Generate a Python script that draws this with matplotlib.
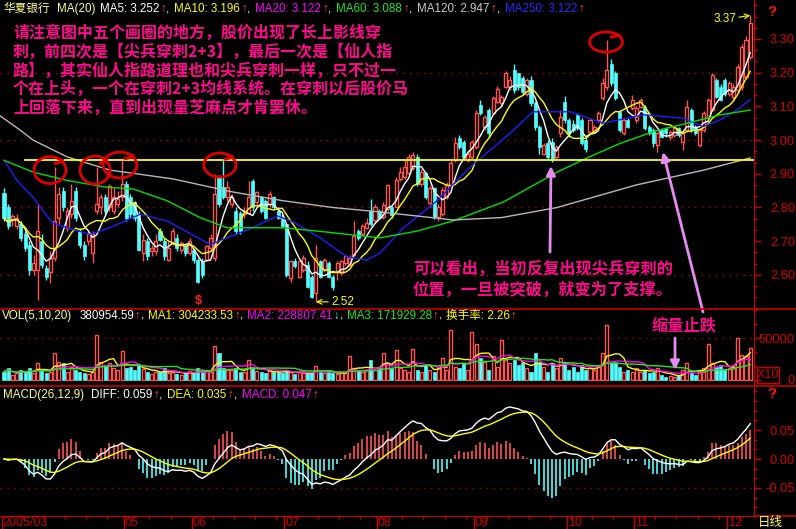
import numpy as np
import pandas as pd
import matplotlib
matplotlib.use('Agg')
import matplotlib.pyplot as plt
import matplotlib.transforms as mtrans
from matplotlib.patches import Ellipse, Rectangle, FancyArrowPatch, Arc
from matplotlib.ticker import MultipleLocator, FixedLocator

plt.rcParams['font.family'] = ['Liberation Sans', 'Noto Sans CJK SC', 'DejaVu Sans']

# 华夏银行 日线 2005/03 - 2005/12
opens = [2.842, 2.80, 2.765, 2.745, 2.75, 2.72, 2.69, 2.615, 2.615, 2.70,
         2.62, 2.61, 2.65, 2.77, 2.85, 2.74, 2.78, 2.85, 2.73, 2.69,
         2.70, 2.665, 2.79, 2.80, 2.83, 2.80, 2.79, 2.81, 2.83, 2.87,
         2.83, 2.815, 2.78, 2.665, 2.70, 2.67, 2.67, 2.73, 2.70, 2.645,
         2.695, 2.71, 2.675, 2.685, 2.665, 2.675, 2.645, 2.64, 2.645, 2.68,
         2.65, 2.89, 2.86, 2.83, 2.81, 2.79, 2.785, 2.78, 2.785, 2.88,
         2.815, 2.83, 2.82, 2.81, 2.83, 2.79, 2.77, 2.75, 2.59, 2.64,
         2.595, 2.615, 2.63, 2.595, 2.545, 2.64, 2.615, 2.635, 2.595, 2.61,
         2.605, 2.635, 2.63, 2.66, 2.73, 2.72, 2.74, 2.79, 2.763, 2.79,
         2.772, 2.797, 2.80, 2.802, 2.886, 2.891, 2.901, 2.916, 2.951, 2.871,
         2.901, 2.812, 2.857, 2.772, 2.782, 2.832, 2.866, 2.941, 3.005, 2.995,
         2.941, 2.951, 2.980, 3.104, 3.039, 3.089, 3.079, 3.114, 3.109, 3.158,
         3.158, 3.208, 3.198, 3.183, 3.138, 3.178, 3.109, 3.039, 2.960, 2.990,
         2.995, 2.951, 3.020, 3.114, 3.059, 3.049, 3.074, 3.059, 3.000, 3.025,
         3.025, 3.059, 3.124, 3.158, 3.227, 3.198, 3.084, 3.020, 3.059, 3.094,
         3.059, 3.099, 3.099, 3.039, 3.030, 2.985, 3.030, 3.035, 3.010, 3.015,
         3.035, 2.995, 3.030, 3.089, 3.039, 2.985, 3.030, 3.069, 3.089, 3.178,
         3.158, 3.178, 3.138, 3.129, 3.148, 3.158, 3.188, 3.247]
closes = [2.768, 2.745, 2.775, 2.770, 2.71, 2.68, 2.615, 2.635, 2.73, 2.63,
          2.595, 2.65, 2.76, 2.84, 2.80, 2.79, 2.82, 2.77, 2.69, 2.655,
          2.72, 2.72, 2.81, 2.83, 2.79, 2.865, 2.83, 2.825, 2.87, 2.77,
          2.78, 2.77, 2.675, 2.705, 2.655, 2.68, 2.70, 2.705, 2.655, 2.68,
          2.73, 2.68, 2.695, 2.665, 2.70, 2.645, 2.58, 2.60, 2.685, 2.71,
          2.84, 2.81, 2.83, 2.86, 2.83, 2.73, 2.73, 2.79, 2.83, 2.80,
          2.845, 2.79, 2.77, 2.84, 2.80, 2.77, 2.745, 2.60, 2.64, 2.625,
          2.64, 2.65, 2.565, 2.535, 2.65, 2.595, 2.645, 2.595, 2.565, 2.635,
          2.64, 2.655, 2.65, 2.715, 2.71, 2.745, 2.755, 2.75, 2.802, 2.77,
          2.807, 2.866, 2.777, 2.881, 2.906, 2.921, 2.951, 2.955, 2.871, 2.906,
          2.832, 2.857, 2.772, 2.802, 2.852, 2.866, 2.931, 2.990, 2.980, 2.951,
          2.960, 2.995, 3.079, 3.079, 3.069, 3.020, 3.124, 3.153, 3.129, 3.198,
          3.178, 3.148, 3.158, 3.143, 3.178, 3.109, 3.039, 2.980, 2.985, 2.951,
          2.941, 2.980, 3.069, 3.059, 3.020, 3.030, 3.035, 2.990, 2.975, 3.059,
          3.039, 3.079, 3.168, 3.208, 3.168, 3.124, 3.030, 3.059, 3.039, 3.119,
          3.094, 3.119, 3.035, 3.020, 2.990, 3.020, 3.010, 3.020, 3.025, 3.039,
          3.015, 3.020, 3.099, 3.030, 3.020, 3.030, 3.079, 3.119, 3.193, 3.129,
          3.119, 3.138, 3.168, 3.158, 3.218, 3.277, 3.297, 3.346]
highs = [2.857, 2.81, 2.78, 2.78, 2.76, 2.73, 2.70, 2.66, 2.81, 2.72,
         2.63, 2.67, 2.921, 2.86, 2.86, 2.80, 2.87, 2.86, 2.74, 2.70,
         2.73, 2.73, 2.921, 2.84, 2.84, 2.87, 2.857, 2.85, 2.94, 2.88,
         2.84, 2.82, 2.79, 2.72, 2.71, 2.69, 2.72, 2.74, 2.71, 2.70,
         2.74, 2.72, 2.70, 2.69, 2.71, 2.68, 2.65, 2.65, 2.69, 2.72,
         2.90, 2.895, 2.94, 2.88, 2.84, 2.80, 2.79, 2.80, 2.88, 2.885,
         2.85, 2.835, 2.825, 2.85, 2.835, 2.80, 2.78, 2.755, 2.645, 2.65,
         2.645, 2.66, 2.64, 2.60, 2.69, 2.645, 2.65, 2.64, 2.60, 2.64,
         2.645, 2.66, 2.66, 2.76, 2.735, 2.75, 2.77, 2.825, 2.81, 2.795,
         2.815, 2.87, 2.805, 2.89, 2.92, 2.94, 2.96, 2.965, 2.96, 2.915,
         2.905, 2.865, 2.86, 2.81, 2.86, 2.875, 2.94, 3.01, 3.015, 3.00,
         2.97, 3.00, 3.09, 3.12, 3.075, 3.095, 3.13, 3.16, 3.135, 3.205,
         3.19, 3.227, 3.20, 3.19, 3.185, 3.19, 3.115, 3.045, 2.99, 3.00,
         3.005, 2.985, 3.09, 3.13, 3.065, 3.06, 3.08, 3.065, 3.005, 3.065,
         3.045, 3.085, 3.183, 3.297, 3.24, 3.205, 3.09, 3.065, 3.065, 3.133,
         3.10, 3.125, 3.105, 3.045, 3.035, 3.025, 3.035, 3.04, 3.03, 3.045,
         3.04, 3.025, 3.12, 3.095, 3.045, 3.035, 3.085, 3.125, 3.20, 3.185,
         3.165, 3.185, 3.175, 3.165, 3.225, 3.285, 3.31, 3.37]
lows = [2.760, 2.735, 2.745, 2.735, 2.70, 2.67, 2.60, 2.60, 2.526, 2.62,
        2.585, 2.575, 2.64, 2.75, 2.79, 2.73, 2.77, 2.76, 2.68, 2.645,
        2.69, 2.635, 2.78, 2.78, 2.78, 2.79, 2.78, 2.80, 2.82, 2.76,
        2.77, 2.76, 2.67, 2.64, 2.645, 2.655, 2.66, 2.70, 2.645, 2.64,
        2.69, 2.67, 2.665, 2.655, 2.66, 2.635, 2.575, 2.59, 2.64, 2.67,
        2.64, 2.80, 2.825, 2.82, 2.80, 2.72, 2.72, 2.77, 2.78, 2.79,
        2.81, 2.785, 2.765, 2.80, 2.795, 2.765, 2.74, 2.595, 2.58, 2.62,
        2.59, 2.61, 2.56, 2.53, 2.52, 2.59, 2.61, 2.59, 2.555, 2.585,
        2.60, 2.63, 2.625, 2.655, 2.705, 2.715, 2.735, 2.745, 2.755, 2.765,
        2.765, 2.79, 2.77, 2.80, 2.88, 2.885, 2.895, 2.91, 2.865, 2.865,
        2.825, 2.80, 2.765, 2.76, 2.775, 2.825, 2.86, 2.935, 2.975, 2.945,
        2.935, 2.945, 2.975, 3.075, 3.03, 3.01, 3.075, 3.11, 3.10, 3.155,
        3.15, 3.14, 3.15, 3.135, 3.13, 3.10, 3.03, 2.96, 2.955, 2.945,
        2.936, 2.945, 3.01, 3.05, 3.01, 3.025, 3.03, 2.985, 2.965, 3.02,
        3.02, 3.055, 3.12, 3.15, 3.16, 3.12, 3.025, 3.015, 3.035, 3.09,
        3.05, 3.095, 3.03, 3.015, 2.98, 2.965, 3.005, 3.01, 3.00, 3.01,
        3.01, 2.97, 3.025, 3.025, 3.015, 2.98, 3.025, 3.065, 3.085, 3.125,
        3.115, 3.13, 3.13, 3.12, 3.14, 3.15, 3.18, 3.24]
# 成交量 (X10)
volumes = [10000, 14000, 6000, 8000, 12000, 9000, 14000, 8000, 20000, 12000,
           8000, 10000, 32000, 21000, 20000, 10000, 16000, 12000, 9000, 8000,
           7000, 10000, 53000, 22000, 18000, 20000, 14000, 12000, 34000, 14000,
           16000, 12000, 18000, 13000, 9000, 7000, 10000, 9000, 14000, 8000,
           10000, 7000, 6000, 9000, 11000, 8000, 14000, 9000, 12000, 10000,
           41000, 32000, 14000, 12000, 12000, 14000, 10000, 9000, 24000, 14000,
           11000, 9000, 8000, 12000, 9000, 10000, 8000, 12000, 10000, 7000,
           9000, 8000, 8000, 10000, 17000, 9000, 8000, 10000, 8000, 7000,
           9000, 8000, 28000, 14000, 12000, 10000, 12000, 24000, 12000, 14000,
           32000, 20000, 14000, 36000, 14000, 12000, 10000, 37000, 12000, 10000,
           18000, 12000, 10000, 14000, 26000, 12000, 60000, 16000, 14000, 20000,
           12000, 57000, 43000, 26000, 22000, 12000, 28000, 16000, 48000, 24000,
           20000, 24000, 18000, 20000, 14000, 10000, 32000, 22000, 16000, 10000,
           20000, 14000, 26000, 22000, 12000, 16000, 10000, 18000, 12000, 14000,
           12000, 18000, 32000, 66000, 20000, 20000, 16000, 10000, 12000, 10000,
           14000, 10000, 12000, 8000, 10000, 14000, 6000, 4000, 5000, 3000,
           6000, 12000, 20000, 8000, 6000, 10000, 14000, 43000, 20000, 16000,
           18000, 12000, 14000, 16000, 50000, 30000, 28000, 38000]

month_labels = ['2005/03', '05', '06', '07', '08', '09', '10', '11', '12']
month_starts = [0, 29, 45, 67, 89, 112, 134, 150, 172]

# 较长周期均线 (图上读出的折点: K线序号, 价格)
ma20_idx = [0, 3.1, 6.9, 11.4, 15, 20.4, 25.1, 32.3, 38.7, 43.4, 48.9, 52.9, 58.4, 64.8, 68.6, 75,
            81.4, 86.1, 89.2, 94.7, 102.7, 110.6, 120, 125.5, 134.3, 142.1, 151.6, 161.1, 165.8,
            169.9, 173.9, 177]
ma20_val = [2.94, 2.88, 2.83, 2.755, 2.74, 2.72, 2.74, 2.78, 2.76, 2.728, 2.69, 2.71, 2.737, 2.775,
            2.757, 2.71, 2.653, 2.644, 2.665, 2.739, 2.82, 2.92, 3.02, 3.084, 3.084, 3.05, 3.075,
            3.065, 3.04, 3.06, 3.09, 3.12]
ma60_idx = [0, 6.9, 15, 24.4, 30.6, 38.7, 46.5, 52.9, 66.2, 74.3, 89.2, 98, 106.5, 118.4, 131.2,
            138.3, 146.1, 154, 162, 169.9, 177]
ma60_val = [2.94, 2.905, 2.88, 2.86, 2.855, 2.82, 2.77, 2.74, 2.74, 2.73, 2.71, 2.73, 2.76, 2.816,
            2.905, 2.947, 2.99, 3.025, 3.05, 3.075, 3.089]
ma120_idx = [-0.95, 3.8, 6.9, 15, 25.1, 40, 54.3, 66.2, 78, 89, 106.5, 118, 131.2, 150, 166, 177]
ma120_val = [3.072, 3.03, 3.00, 2.95, 2.911, 2.885, 2.846, 2.82, 2.80, 2.787, 2.763, 2.77, 2.80,
             2.867, 2.911, 2.947]

support_price = 2.94
support_from = 4.75

RED = '#ff5454'
CYAN = '#54fcfc'
AX = '#c80000'
YEL = '#ffff00'
LY = '#ffff8c'
MAG = '#ff00ff'
GRN = '#22e622'
PINK = '#ff0a8c'
LILAC = '#e48cf0'

W, H = 796, 529
XMIN, XMAX = -0.95, 177.9

fig = plt.figure(figsize=(W / 100, H / 100), dpi=100, facecolor='black')


def px_axes(y0, y1):
    return fig.add_axes([0, 1 - y1 / H, 754 / W, (y1 - y0) / H])


ax_p = px_axes(0, 309)
ax_v = px_axes(309, 386)
ax_m = px_axes(386, 516)


def style(ax, ylim, major, labels, minor):
    ax.set_facecolor('black')
    ax.set_xlim(XMIN, XMAX)
    ax.set_ylim(*ylim)
    for s in ['top', 'left', 'bottom']:
        ax.spines[s].set_visible(False)
    ax.spines['right'].set_color(AX)
    ax.yaxis.tick_right()
    ax.set_yticks(major)
    ax.set_yticklabels(labels)
    ax.yaxis.set_minor_locator(MultipleLocator(minor))
    ax.tick_params(axis='y', which='major', colors=AX, length=5, width=1, pad=24.5,
                   labelsize=9.3, labelcolor='#d40000')
    ax.tick_params(axis='y', which='minor', colors=AX, length=2.5, width=1)
    for lb in ax.get_yticklabels():
        lb.set_ha('right')
    ax.set_xticks([])


o = np.array(opens)
c = np.array(closes)
hi = np.array(highs)
lo = np.array(lows)
vol = np.array(volumes)
x = np.arange(len(c))
up = c >= o

# ---- 主图 K线 ----
ptk = [2.6, 2.7, 2.8, 2.9, 3.0, 3.1, 3.2, 3.3]
style(ax_p, (2.4988, 3.4157), ptk, ['%.2f' % v for v in ptk], 0.1 / 3)
for g in [2.6, 2.8, 3.0, 3.2]:
    ax_p.axhline(g, color='#b40000', ls=(0, (1, 4)), lw=1, zorder=1)
ax_p.vlines(x, lo, hi, colors=np.where(up, RED, CYAN), lw=1, zorder=3)
body_lo = np.minimum(o, c)
body_h = np.maximum(np.abs(c - o), 0.002)
ax_p.bar(x[up], body_h[up], bottom=body_lo[up], width=0.72, color='black', edgecolor=RED,
         linewidth=1, zorder=4)
ax_p.bar(x[~up], body_h[~up], bottom=body_lo[~up], width=0.72, color=CYAN, edgecolor=CYAN,
         linewidth=0.5, zorder=4)

cs = pd.Series(c)
ax_p.plot(x, cs.rolling(5, min_periods=1).mean(), color='white', lw=1, zorder=5)
ax_p.plot(x, cs.rolling(10, min_periods=1).mean(), color=YEL, lw=1, zorder=5)
ax_p.plot(ma20_idx, ma20_val, color='#1e1eff', lw=1, zorder=5)
ax_p.plot(ma60_idx, ma60_val, color='#00e000', lw=1, zorder=5)
ax_p.plot(ma120_idx, ma120_val, color='#b8b8b8', lw=1, zorder=5)
ax_p.hlines(support_price, support_from, XMAX, color=YEL, lw=1.3, zorder=6)

i_hi = int(np.argmax(hi))
i_lo = int(np.argmin(lo))
ax_p.annotate('%.2f' % hi[i_hi], xy=(i_hi, hi[i_hi]), xytext=(-14, -4), textcoords='offset pixels',
              ha='right', va='center', color=YEL, fontsize=8.5,
              arrowprops=dict(arrowstyle='->', color=YEL, lw=0.8, shrinkA=0, shrinkB=0), zorder=7)
ax_p.annotate('%.2f' % lo[i_lo], xy=(i_lo, lo[i_lo]), xytext=(15, 0), textcoords='offset pixels',
              ha='left', va='center', color=YEL, fontsize=8.5,
              arrowprops=dict(arrowstyle='->', color=YEL, lw=0.8, shrinkA=0, shrinkB=0), zorder=7)

# 画圈 (手绘红圈, 右上角带一个小钩)
for cx, cy, ew, eh in [(10.9, 2.911, 7.6, 0.08), (21.6, 2.911, 7.1, 0.083), (27.5, 2.926, 8.0, 0.077),
                       (51.2, 2.926, 7.6, 0.071), (142.8, 3.291, 7.8, 0.06)]:
    ax_p.add_patch(Ellipse((cx, cy), ew, eh, fill=False, edgecolor='#e00000', lw=2, zorder=8))
    ax_p.add_patch(Arc((cx + ew * 0.12, cy + eh * 0.42), ew * 0.55, eh * 0.35, theta1=200, theta2=360,
                       edgecolor='#e00000', lw=2, zorder=8))

# ---- 成交量 ----
style(ax_v, (-7143, 84524), [0, 50000], ['0', '50000'], 50000 / 3)
ax_v.axhline(50000, color='#b40000', ls=(0, (1, 4)), lw=1, zorder=1)
ax_v.bar(x[up], vol[up], width=0.72, color='black', edgecolor=RED, linewidth=1, zorder=3)
ax_v.bar(x[~up], vol[~up], width=0.72, color=CYAN, edgecolor=CYAN, linewidth=0.5, zorder=3)
vs = pd.Series(vol)
ax_v.plot(x, vs.rolling(5, min_periods=1).mean(), color=YEL, lw=1, zorder=4)
ax_v.plot(x, vs.rolling(10, min_periods=1).mean(), color=MAG, lw=1, zorder=4)
ax_v.plot(x, vs.rolling(20, min_periods=1).mean(), color=GRN, lw=1, zorder=4)

# ---- MACD ----
style(ax_m, (-0.0983, 0.1259), [-0.05, 0.0, 0.05], ['-0.05', '0.00', '0.05'], 0.05 / 3)
ax_m.axhline(-0.05, color='#b40000', ls=(0, (1, 4)), lw=1, zorder=1)
ema12 = cs.ewm(span=12, adjust=False).mean()
ema26 = cs.ewm(span=26, adjust=False).mean()
diff = ema12 - ema26
dea = diff.ewm(span=9, adjust=False).mean()
macd = 2 * (diff - dea)
ax_m.vlines(x, 0, macd, colors=np.where(macd >= 0, RED, CYAN), lw=1.2, zorder=3)
ax_m.plot(x, diff, color='white', lw=1, zorder=4)
ax_m.plot(x, dea, color=YEL, lw=1, zorder=4)

ax_m.spines['bottom'].set_visible(True)
ax_m.spines['bottom'].set_color(AX)
ax_m.set_xticks([m - 0.5 for m in month_starts])
ax_m.set_xticklabels([])
ax_m.xaxis.set_minor_locator(FixedLocator(np.arange(-0.5, 178, 5)))
ax_m.tick_params(axis='x', which='major', colors=AX, length=9.5, width=1, direction='out')
ax_m.tick_params(axis='x', which='minor', colors=AX, length=2, width=1, direction='out')
trans = mtrans.blended_transform_factory(ax_m.transData, ax_m.transAxes)
for m, lab in zip(month_starts, month_labels):
    ax_m.text(m - 0.3, -0.054, lab, transform=trans, ha='left', va='center', color=AX,
              fontsize=9, clip_on=False)

# ---- 叠加层 (像素坐标) ----
ov = fig.add_axes([0, 0, 1, 1], zorder=10)
ov.set_xlim(0, W)
ov.set_ylim(H, 0)
ov.axis('off')
for yy in [309, 386]:
    ov.plot([0, W], [yy, yy], color=AX, lw=1.2)
ov.plot([754, W], [516, 516], color=AX, lw=1.2)
ov.text(772, 12, '?', color='#ff1010', fontsize=11, weight='bold', ha='center', va='center')
ov.text(772, 394, '?', color='#ff1010', fontsize=11, weight='bold', ha='center', va='center')
ov.add_patch(Rectangle((757, 367), 22, 16, fill=False, edgecolor=AX, lw=1))
ov.text(768, 375.5, 'X10', color=AX, fontsize=9, ha='center', va='center')
ov.text(758, 523, '日线', color='#ffff60', fontsize=9, ha='left', va='center')
ov.text(198, 301, r'\$', color='#ff2020', fontsize=9, weight='bold', ha='center', va='center')

rend = fig.canvas.get_renderer()


def chain(x0, y, pieces, size=8.4):
    xx = x0
    for s, col, gap in pieces:
        t = ov.text(xx, y, s, color=col, fontsize=size, ha='left', va='center')
        xx += t.get_window_extent(renderer=rend).width + gap


ARW = '\u2191'
chain(3, 9, [('华夏银行', LY, 7), ('MA(20)', LY, 5), ('MA5: 3.252', 'white', 1), (ARW, RED, 0),
             (',', 'white', 5), ('MA10: 3.196', YEL, 1), (ARW, RED, 0), (',', 'white', 5),
             ('MA20: 3.122', MAG, 1), (ARW, RED, 0), (',', 'white', 5),
             ('MA60: 3.088', GRN, 1), (ARW, RED, 0), (',', 'white', 5),
             ('MA120: 2.947', '#c8c8c8', 1), (ARW, RED, 0), (',', 'white', 5),
             ('MA250: 3.122', '#2828ff', 1), (ARW, RED, 0)])
chain(2, 316, [('VOL(5,10,20)', LY, 7), ('380954.59', 'white', 1), (ARW, RED, 0), (',', 'white', 4),
               ('MA1: 304233.53', YEL, 1), (ARW, RED, 0), (',', 'white', 4),
               ('MA2: 228807.41', MAG, 1), ('\u2193', CYAN, 0), (',', 'white', 4),
               ('MA3: 171929.28', GRN, 1), (ARW, RED, 0), (',', 'white', 4),
               ('换手率: 2.26', YEL, 1), (ARW, RED, 0)])
chain(3, 395, [('MACD(26,12,9)', LY, 7), ('DIFF: 0.059', 'white', 1), (ARW, RED, 0),
               (',', 'white', 5), ('DEA: 0.035', YEL, 1), (ARW, RED, 0), (',', 'white', 5),
               ('MACD: 0.047', MAG, 1), (ARW, RED, 0)])

note1 = ['请注意图中五个画圈的地方，股价出现了长上影线穿',
         '刺，前四次是【尖兵穿刺2+3】，最后一次是【仙人指',
         '路】，其实仙人指路道理也和尖兵穿刺一样，只不过一',
         '个在上头，一个在穿刺2+3均线系统。在穿刺以后股价马',
         '上回落下来，直到出现量芝麻点才肯罢休。']
for k, line in enumerate(note1):
    ov.text(13, 33 + k * 18.7, line, color=PINK, fontsize=11.5, weight='bold', ha='left', va='center',
            family=['Noto Sans CJK SC', 'DejaVu Sans'])
note2 = ['可以看出，当初反复出现尖兵穿刺的', '位置，一旦被突破，就变为了支撑。']
for k, line in enumerate(note2):
    ov.text(413, 269 + k * 21, line, color=PINK, fontsize=11.7, weight='bold', ha='left', va='center',
            family=['Noto Sans CJK SC', 'DejaVu Sans'])
ov.text(652, 325, '缩量止跌', color=PINK, fontsize=11.7, weight='bold', ha='left', va='center',
        family=['Noto Sans CJK SC', 'DejaVu Sans'])

for (x0, y0), (x1, y1) in [((550, 252), (551, 166)), ((703, 312), (663, 152)), ((675, 338), (675, 370))]:
    ov.add_patch(FancyArrowPatch((x0, y0), (x1, y1), arrowstyle='-|>', mutation_scale=13,
                                 color=LILAC, lw=2, shrinkA=0, shrinkB=0))

fig.savefig('out.png', dpi=100, facecolor='black')
